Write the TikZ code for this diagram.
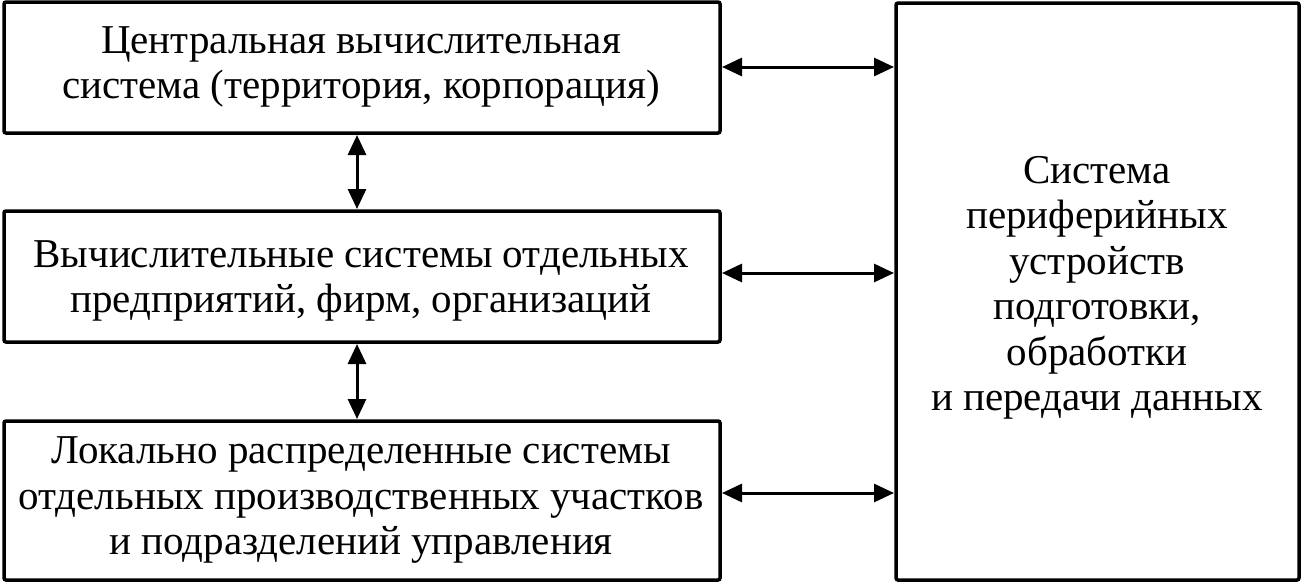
\documentclass[tikz,border=0pt]{standalone}
\usepackage{fontspec}
\setmainfont{Liberation Serif}
\usetikzlibrary{arrows.meta}
\begin{document}
\begin{tikzpicture}[x=1pt,y=-1pt,
  box/.style={draw,line width=3.5pt,rounded corners=2pt},
  lbl/.style={align=center,font=\fontsize{41}{45.5}\selectfont,inner sep=0pt},
  link/.style={line width=3pt,{Triangle[length=20pt,width=18pt]}-{Triangle[length=20pt,width=18pt]}}]
\useasboundingbox (0,0) rectangle (1304,584);
\path[box] (4,2) rectangle (720,133);
\path[box] (4,211) rectangle (720,342);
\path[box] (4,421) rectangle (720,580);
\path[box] (896,3) rectangle (1299,580);
\node[lbl] (a) at (361,67) {Центральная вычислительная\\система (территория, корпорация)};
\node[lbl] (b) at (361,281) {Вычислительные системы отдельных\\предприятий, фирм, организаций};
\node[lbl] (c) at (361,500) {Локально распределенные системы\\отдельных производственных участков\\и подразделений управления};
\node[lbl] (d) at (1097,288) {Система\\периферийных\\устройств\\подготовки,\\обработки\\и передачи данных};
\coordinate (a1) at (722,67); \coordinate (a2) at (894,67);
\coordinate (b1) at (722,273); \coordinate (b2) at (894,273);
\coordinate (c1) at (722,493); \coordinate (c2) at (894,493);
\coordinate (v1) at (357,135); \coordinate (v2) at (357,209);
\coordinate (v3) at (357,344); \coordinate (v4) at (357,419);
\draw[link] (a1) -- (a2);
\draw[link] (b1) -- (b2);
\draw[link] (c1) -- (c2);
\draw[link] (v1) -- (v2);
\draw[link] (v3) -- (v4);
\end{tikzpicture}
\end{document}
